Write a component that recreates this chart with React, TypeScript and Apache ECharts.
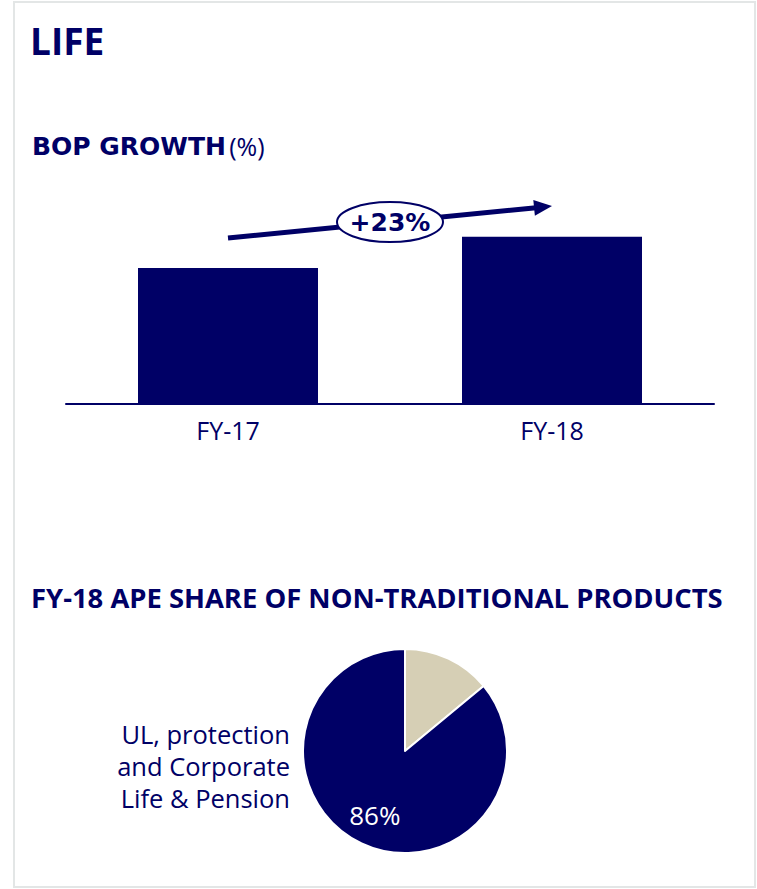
import React, { useEffect, useRef } from 'react';
import * as echarts from 'echarts';

const NAVY = '#000066';
const BEIGE = '#D6CFB5';
const FONT = '"Open Sans", "Noto Sans", sans-serif';
const FONT_WIDE = '"DejaVu Sans", "Open Sans", sans-serif';

// Bar chart (indexed BOP, FY-17 = 100)
const barCategories = ['FY-17', 'FY-18'];
const barValues = [100, 123];
const growthLabel = '+23%';
// growth arrow: [category index, value] of its tail and tip
const arrowFrom = [0, 122];
const arrowTo = [1, 145.5];

// Pie chart: APE share
const pieNames = ['Traditional products', 'UL, protection and Corporate Life & Pension'];
const pieValues = [14, 86];
const pieColors = [BEIGE, NAVY];
const pieInsideLabels = ['', '86%'];
const pieSideLabelLines = ['UL, protection', 'and Corporate', 'Life & Pension'];

export default function App() {
  const ref = useRef<HTMLDivElement>(null);

  useEffect(() => {
    if (!ref.current) return;
    const chart = echarts.init(ref.current, null, { renderer: 'svg' });

    const staticGraphics: any[] = [
      {
        type: 'rect',
        shape: { x: 14, y: 2, width: 741, height: 885 },
        style: { fill: 'none', stroke: '#e3e6e6', lineWidth: 2 },
        silent: true,
      },
      {
        type: 'text',
        x: 30,
        y: 40,
        style: {
          text: 'LIFE',
          fill: NAVY,
          font: `bold 37px ${FONT}`,
          verticalAlign: 'middle',
          align: 'left',
        },
      },
      {
        type: 'text',
        x: 32,
        y: 146,
        style: {
          text: '{b|BOP GROWTH} {r|(%)}',
          verticalAlign: 'middle',
          align: 'left',
          rich: {
            b: { fill: NAVY, fontWeight: 'bold', fontSize: 25, fontFamily: FONT_WIDE },
            r: { fill: NAVY, fontWeight: 'normal', fontSize: 25, fontFamily: FONT },
          },
        },
      },
      {
        type: 'text',
        x: 31,
        y: 597,
        style: {
          text: 'FY-18 APE SHARE OF NON-TRADITIONAL PRODUCTS',
          fill: NAVY,
          font: `bold 27.4px ${FONT}`,
          verticalAlign: 'middle',
          align: 'left',
        },
      },
      ...pieSideLabelLines.map((t, i) => ({
        type: 'text',
        x: 290,
        y: 734 + i * 32,
        style: {
          text: t,
          fill: NAVY,
          font: `25.5px ${FONT}`,
          verticalAlign: 'middle',
          align: 'right',
        },
      })),
    ];

    const option: any = {
      animation: false,
      grid: { left: 66, right: 43, top: 200, bottom: 485, containLabel: false },
      xAxis: {
        type: 'category',
        data: barCategories,
        axisLine: { show: true, lineStyle: { color: NAVY, width: 2 } },
        axisTick: { show: false },
        axisLabel: { color: NAVY, fontSize: 25, fontFamily: FONT, margin: 13 },
      },
      yAxis: { type: 'value', min: 0, max: 150, show: false, splitLine: { show: false } },
      series: [
        {
          type: 'bar',
          data: barValues,
          barWidth: 180,
          itemStyle: { color: NAVY },
        },
        {
          type: 'pie',
          center: [405, 751],
          radius: 102,
          startAngle: 90,
          clockwise: true,
          label: { show: false },
          labelLine: { show: false },
          itemStyle: { borderColor: '#ffffff', borderWidth: 2 },
          data: pieNames.map((n, i) => ({ name: n, value: pieValues[i], itemStyle: { color: pieColors[i] } })),
        },
        {
          type: 'pie',
          center: [405, 751],
          radius: [38, 98],
          startAngle: 90,
          clockwise: true,
          silent: true,
          itemStyle: { color: 'rgba(0,0,0,0)' },
          label: {
            show: true,
            position: 'inside',
            color: '#ffffff',
            fontSize: 26,
            fontFamily: FONT,
            formatter: (p: any) => pieInsideLabels[p.dataIndex],
          },
          labelLine: { show: false },
          data: pieNames.map((n, i) => ({ name: n, value: pieValues[i] })),
        },
      ],
    };

    chart.setOption(option);

    const p0 = chart.convertToPixel({ gridIndex: 0 }, arrowFrom) as number[];
    const p1 = chart.convertToPixel({ gridIndex: 0 }, arrowTo) as number[];
    const dx = p1[0] - p0[0];
    const dy = p1[1] - p0[1];
    const len = Math.sqrt(dx * dx + dy * dy);
    const ux = dx / len;
    const uy = dy / len;
    const nx = -uy;
    const ny = ux;
    const headLen = 18;
    const headHalf = 8;
    const bx = p1[0] - ux * headLen;
    const by = p1[1] - uy * headLen;
    const mx = (p0[0] + p1[0]) / 2;
    const my = (p0[1] + p1[1]) / 2;

    chart.setOption({
      graphic: [
        ...staticGraphics,
        {
          type: 'line',
          z: 90,
          shape: { x1: p0[0], y1: p0[1], x2: bx + ux * 2, y2: by + uy * 2 },
          style: { stroke: NAVY, lineWidth: 5, lineCap: 'butt' },
        },
        {
          type: 'polygon',
          z: 90,
          shape: {
            points: [
              [p1[0], p1[1]],
              [bx + nx * headHalf, by + ny * headHalf],
              [bx - nx * headHalf, by - ny * headHalf],
            ],
          },
          style: { fill: NAVY },
        },
        {
          type: 'ellipse',
          z: 100,
          shape: { cx: mx, cy: my, rx: 53, ry: 20 },
          style: { fill: '#ffffff', stroke: NAVY, lineWidth: 2 },
        },
        {
          type: 'text',
          z: 101,
          x: mx,
          y: my,
          style: {
            text: growthLabel,
            fill: NAVY,
            font: `bold 25px ${FONT_WIDE}`,
            align: 'center',
            verticalAlign: 'middle',
          },
        },
      ],
    });

    return () => chart.dispose();
  }, []);

  return (
    <div
      ref={ref}
      style={{ position: 'absolute', left: 0, top: 0, width: 757, height: 889, background: '#ffffff' }}
    />
  );
}
